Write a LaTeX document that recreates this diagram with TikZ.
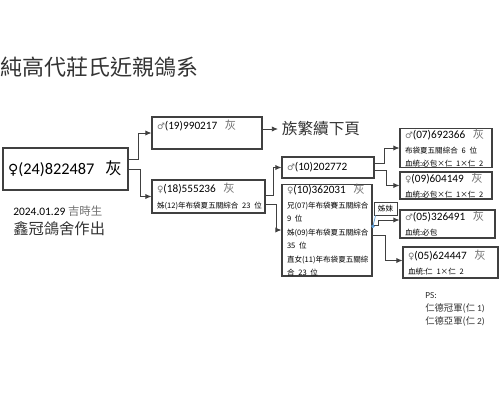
\documentclass[tikz,border=0pt]{standalone}
\usepackage{fontspec}
\setmainfont{Carlito}
\newfontfamily\cjk{Noto Sans CJK TC}
\newfontfamily\symf{DejaVu Sans}
\usetikzlibrary{arrows.meta,calc}
\definecolor{linegray}{HTML}{404040}
\definecolor{symgray}{HTML}{707070}
\definecolor{callblue}{HTML}{5B9BD5}
\newcommand{\zh}[1]{{\cjk #1}}
\newcommand{\fem}{{\symf\fontsize{8}{8}\selectfont\char"2640}}
\newcommand{\gfem}{{\color{symgray}\symf\fontsize{5}{5}\selectfont\char"2640}}
\newcommand{\gmal}{{\color{symgray}\symf\fontsize{5}{5}\selectfont\char"2642}}
\newcommand{\hue}{{\color{symgray}\cjk 灰}}
\newcommand{\md}{\fontsize{6.4}{7.6}\selectfont}
\newcommand{\sm}{\fontsize{4.3}{5.1}\selectfont\cjk}
\newcommand{\row}[1]{\mbox{#1}}

\begin{document}
\begin{tikzpicture}[x=0.02cm,y=-0.02cm]
            \tikzstyle{every node}+=[inner sep=0pt]
            \tikzstyle{pbox}=[draw=linegray, line width=0.6pt, inner xsep=0.1cm, align=left]
            \tikzstyle{link}=[draw=linegray, line width=0.5pt, -{Latex[length=3.5pt,width=3pt]}]
            \useasboundingbox (0,0) rectangle (500,400);
            \node [anchor=west, text=black!80, font=\fontsize{12.5}{14}\selectfont\cjk] (title) at (0,67) {純高代莊氏近親鴿系};
            \node [pbox, text width=2.3cm, minimum height=0.84cm, font=\fontsize{9.3}{11}\selectfont] (hen) at (65.5,169) {\row{\fem(24)822487\ \ \zh{灰}}};
            \node [anchor=west, font=\fontsize{6.5}{8}\selectfont] (born) at (13,211) {2024.01.29 {\color{symgray}\zh{吉時生}}};
            \node [anchor=west, text=black!80, font=\fontsize{8.7}{10}\selectfont\cjk] (loft) at (13,229) {鑫冠鴿舍作出};
            \node [pbox, text width=2cm, minimum height=0.64cm, font=\md] (sire19) at (207,133) {\row{\gmal(19)990217\ \ \hue}\\ \strut};
            \node [anchor=west, inner xsep=2pt, text=black!80, font=\fontsize{8.9}{10}\selectfont\cjk] (more) at (278,129) {族繁續下頁};
            \node [pbox, text width=2.06cm, minimum height=0.66cm, font=\md] (dam18) at (208.5,196.5) {\row{\gfem(18)555236\ \ \hue}\\[1pt] \row{\sm 姊(12)年布袋夏五關綜合 23 位}};
            \node [pbox, text width=1.64cm, minimum height=0.42cm, font=\md] (cock10) at (328,167.5) {\row{\gmal(10)202772}};
            \node [pbox, text width=1.6cm, minimum height=1.48cm, font=\md] (hen10) at (327,230) {\row{\gfem(10)362031\ \ \hue}\\[1pt] \row{\sm 兄(07)年布袋賽五關綜合}\\ \row{\sm 9 位}\\ \row{\sm 姊(09)年布袋夏五關綜合}\\ \row{\sm 35 位}\\ \row{\sm 直女(11)年布袋夏五關綜}\\ \row{\sm 合 23 位}};
            \node [pbox, text width=1.64cm, minimum height=0.72cm, font=\md] (cock07) at (446,148) {\row{\gmal(07)692366\ \ \hue}\\[1pt] \row{\sm 布袋夏五關綜合 6 位}\\ \row{\sm 血統:必包×仁 1×仁 2}};
            \node [pbox, text width=1.64cm, minimum height=0.54cm, font=\md] (hen09) at (446,185.5) {\row{\gfem(09)604149\ \ \hue}\\[1pt] \row{\sm 血統:必包×仁 1×仁 2}};
            \node [pbox, text width=1.7cm, minimum height=0.56cm, font=\md] (cock05) at (447.5,224) {\row{\gmal(05)326491\ \ \hue}\\[1pt] \row{\sm 血統:必包}};
            \node [pbox, text width=1.7cm, minimum height=0.62cm, font=\md] (hen05) at (450.5,262.5) {\row{\gfem(05)624447\ \ \hue}\\[1pt] \row{\sm 血統:仁 1×仁 2}};
            \node [draw=linegray, line width=0.5pt, minimum width=0.46cm, minimum height=0.26cm, font=\sm] (sis) at (385.5,208.5) {姊妹};
            \node [anchor=north west, align=left, text=black!80, font=\fontsize{5.3}{7.4}\selectfont] (ps) at (425,292) {PS:\\ \zh{仁德冠軍(仁} 1)\\ \zh{仁德亞軍(仁} 2)};
            \draw [link] ($(hen.east)+(0,-10)$) -- ++(10,0) |- (sire19.west);
            \draw [link] (hen.east) -- ++(12,0) |- (dam18.west);
            \draw [link] (sire19.east |- more.west) -- (more.west);
            \draw [link] ($(dam18.east)+(0,-1)$) -- ++(8,0) |- (cock10.west);
            \draw [link] ($(dam18.east)+(0,8)$) -- ++(11,0) |- (hen10.west);
            \draw [link] ($(cock10.east)+(0,-4)$) -- ++(10,0) |- (cock07.west);
            \draw [link] ($(cock10.east)+(0,3)$) -- ++(12,0) |- (hen09.west);
            \draw [link] ($(hen10.east)+(0,-5)$) -- ++(6,0) |- ($(cock05.west)+(0,-4)$);
            \draw [link] ($(hen10.east)+(0,5)$) -- ++(13,0) |- ($(hen05.west)+(0,-2)$);
            \draw [callblue, line width=0.4pt, -{Circle[length=2pt]}] ($(sis.south west)+(2,0)$) -- ($(hen10.east)+(0,-2)$);
        \end{tikzpicture}
\end{document}
